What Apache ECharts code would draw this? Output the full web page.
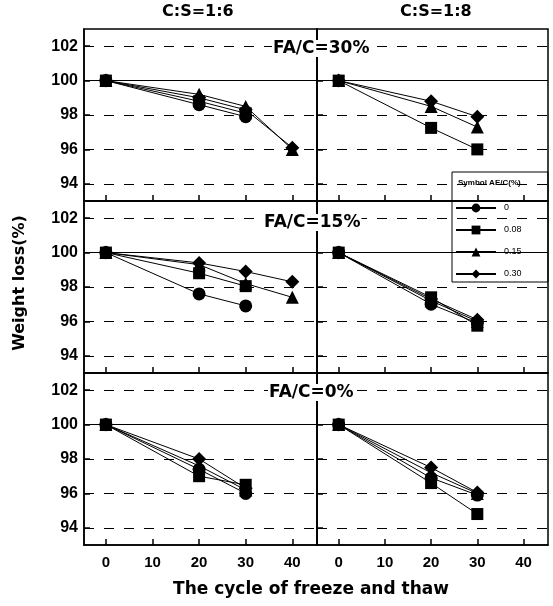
<!DOCTYPE html>
<html><head><meta charset="utf-8">
<script src="https://cdn.jsdelivr.net/npm/echarts@6/dist/echarts.min.js"></script>
<style>html,body{margin:0;padding:0;background:#fff}#c{width:553px;height:606px}</style>
</head><body><div id="c"></div>
<script>
// ---- data ----
const cycles = [0, 20, 30, 40];
const aeLevels = ['0', '0.08', '0.15', '0.30'];
const aeSymbols = ['circle', 'rect', 'triangle', 'diamond'];
const xTicks = [0, 10, 20, 30, 40];
const yTicks = [94, 96, 98, 100, 102];
const colTitles = ['C:S=1:6', 'C:S=1:8'];
const rowTitles = ['FA/C=30%', 'FA/C=15%', 'FA/C=0%'];

// FA/C=30%, C:S=1:6
const fa30_16_c0 = [100, 98.6, 97.9];
const fa30_16_c008 = [100, 98.8, 98.1];
const fa30_16_c015 = [100, 99.2, 98.5, 96.0];
const fa30_16_c030 = [100, 99.0, 98.3, 96.1];
// FA/C=30%, C:S=1:8
const fa30_18_c0 = [];
const fa30_18_c008 = [100, 97.25, 96.0];
const fa30_18_c015 = [100, 98.5, 97.3];
const fa30_18_c030 = [100, 98.8, 97.9];
// FA/C=15%, C:S=1:6
const fa15_16_c0 = [100, 97.6, 96.9];
const fa15_16_c008 = [100, 98.8, 98.05];
const fa15_16_c015 = [100, 99.3, 98.2, 97.4];
const fa15_16_c030 = [100, 99.4, 98.9, 98.3];
// FA/C=15%, C:S=1:8
const fa15_18_c0 = [100, 97.0, 95.9];
const fa15_18_c008 = [100, 97.4, 95.75];
const fa15_18_c015 = [100, 97.2, 96.0];
const fa15_18_c030 = [100, 97.3, 96.1];
// FA/C=0%, C:S=1:6
const fa0_16_c0 = [100, 97.4, 96.0];
const fa0_16_c008 = [100, 97.0, 96.5];
const fa0_16_c015 = [100, 97.6, 96.2];
const fa0_16_c030 = [100, 98.0, 96.3];
// FA/C=0%, C:S=1:8
const fa0_18_c0 = [100, 96.9, 95.9];
const fa0_18_c008 = [100, 96.6, 94.8];
const fa0_18_c015 = [100, 97.2, 96.0];
const fa0_18_c030 = [100, 97.5, 96.05];

const panelData = [
  [fa30_16_c0, fa30_16_c008, fa30_16_c015, fa30_16_c030],
  [fa30_18_c0, fa30_18_c008, fa30_18_c015, fa30_18_c030],
  [fa15_16_c0, fa15_16_c008, fa15_16_c015, fa15_16_c030],
  [fa15_18_c0, fa15_18_c008, fa15_18_c015, fa15_18_c030],
  [fa0_16_c0, fa0_16_c008, fa0_16_c015, fa0_16_c030],
  [fa0_18_c0, fa0_18_c008, fa0_18_c015, fa0_18_c030]
];

// ---- layout ----
const colLeft = [84, 317];
const colWidth = [233, 231];
const rowTop = [29, 201, 373];
const rowH = 172;
const symSizes = [13, 12, 13, 14];
const numFont = 'Liberation Sans, Arial, sans-serif';
const titleFont = 'DejaVu Sans, sans-serif';

const grid = [], xAxis = [], yAxis = [], series = [];
for (let r = 0; r < 3; r++) {
  for (let c = 0; c < 2; c++) {
    const i = r * 2 + c;
    grid.push({left: colLeft[c], top: rowTop[r], width: colWidth[c], height: rowH,
      show: true, borderColor: '#000', borderWidth: 1.5, backgroundColor: 'transparent'});
    xAxis.push({type: 'value', gridIndex: i, min: -4.7, max: 45.3, position: 'bottom',
      axisLine: {show: true, onZero: false, lineStyle: {color: '#000', width: 1.5}}, splitLine: {show: false},
      axisTick: {show: true, inside: true, length: 6, customValues: xTicks, lineStyle: {color: '#000', width: 1.5}},
      axisLabel: {show: r === 2, customValues: xTicks, margin: 10, color: '#000',
        fontSize: 15, fontWeight: 'bold', fontFamily: numFont}});
    yAxis.push({type: 'value', gridIndex: i, min: 93, max: 103, position: 'left',
      axisLine: {show: true, onZero: false, lineStyle: {color: '#000', width: 1.5}}, splitLine: {show: false},
      axisTick: {show: true, inside: true, length: 6, customValues: yTicks, lineStyle: {color: '#000', width: 1.5}},
      axisLabel: {show: c === 0, customValues: yTicks, margin: 6, color: '#000',
        fontSize: 16, fontWeight: 'bold', fontFamily: numFont}});
    // gridlines
    series.push({type: 'line', xAxisIndex: i, yAxisIndex: i, data: [], silent: true, z: 1,
      markLine: {silent: true, symbol: 'none', label: {show: false}, animation: false,
        data: yTicks.map(v => ({yAxis: v, lineStyle: {color: '#000', width: 1,
          type: v === 100 ? 'solid' : [10, 10]}}))}});
    panelData[i].forEach((vals, j) => {
      series.push({type: 'line', name: aeLevels[j], xAxisIndex: i, yAxisIndex: i, z: 3,
        data: vals.map((v, k) => [cycles[k], v]),
        symbol: aeSymbols[j], symbolSize: symSizes[j], showSymbol: true,
        lineStyle: {color: '#000', width: 1}, itemStyle: {color: '#000'}, color: '#000',
        animation: false});
    });
  }
}

const graphic = [];
colTitles.forEach((t, c) => {
  graphic.push({type: 'text', left: [162, 400][c], top: 4,
    style: {text: t, fill: '#000', font: 'bold 16px ' + titleFont}});
});
const rowLabelY = [40, 214, 384];
rowTitles.forEach((t, r) => {
  graphic.push({type: 'text', left: [272, 263, 268][r], top: rowLabelY[r], z: 10,
    style: {text: t, fill: '#000', font: 'bold 17px ' + titleFont, backgroundColor: '#fff', padding: [0, 1]}});
});
graphic.push({type: 'text', x: 20, y: 283, rotation: Math.PI / 2,
  style: {text: 'Weight loss(%)', fill: '#000', font: 'bold 16px ' + titleFont, align: 'center', verticalAlign: 'middle'}});
graphic.push({type: 'text', x: 311, y: 590,
  style: {text: 'The cycle of freeze and thaw', fill: '#000', font: 'bold 17px ' + titleFont, align: 'center', verticalAlign: 'middle'}});
graphic.push({type: 'rect', shape: {x: 452, y: 172, width: 96, height: 110}, z: 5,
  style: {fill: 'none', stroke: '#000', lineWidth: 1}});
graphic.push({type: 'text', left: 458, top: 179, z: 6,
  style: {text: 'Symbol AE/C(%)', fill: '#000', font: 'bold 8px ' + numFont}});

const chart = echarts.init(document.getElementById('c'), null, {renderer: 'canvas'});
chart.setOption({
  animation: false,
  backgroundColor: '#fff',
  grid, xAxis, yAxis, series, graphic,
  legend: {data: aeLevels, orient: 'vertical', left: 455, top: 202, itemWidth: 40, itemHeight: 11,
    itemGap: 10, padding: 0, selectedMode: false,
    textStyle: {color: '#000', fontSize: 9, fontFamily: numFont, lineHeight: 12, padding: [0, 0, 0, 3]}}
});
</script></body></html>
